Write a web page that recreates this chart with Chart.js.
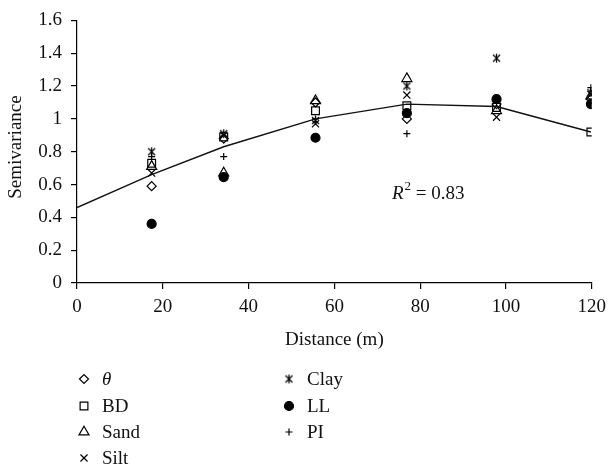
<!DOCTYPE html>
<html>
<head>
<meta charset="utf-8">
<script src="https://cdn.jsdelivr.net/npm/chart.js@4/dist/chart.umd.min.js"></script>
<style>
  html, body { margin: 0; padding: 0; background: #fff; }
  #wrap { width: 613px; height: 468px; }
</style>
</head>
<body>
<div id="wrap"><canvas id="semi" width="613" height="468"></canvas></div>
<script>
// lag distances (m)
var lags = [17.4, 34.2, 55.6, 76.9, 97.8, 119.8]

var theta = [0.59, 0.88, 1.10, 1.00, 1.09, 1.12]
var bd    = [0.73, 0.89, 1.05, 1.08, 1.07, 0.92]
var sand  = [0.71, 0.67, 1.11, 1.245, 1.05, 1.14]
var silt  = [0.67, 0.90, 0.97, 1.145, 1.01, 1.15]
var clay  = [0.80, 0.91, 0.99, 1.20, 1.37, 1.16]
var ll    = [0.36, 0.645, 0.885, 1.035, 1.12, 1.09]
var pi    = [0.77, 0.77, 1.00, 0.91, 1.10, 1.19]

// fitted model
var modelX = [0, 17.4, 34.2, 55.6, 76.9, 97.8, 119.8]
var modelY = [0.46, 0.66, 0.83, 1.00, 1.09, 1.075, 0.92]

var xTicks = [0, 20, 40, 60, 80, 100, 120]
var yTicks = [0, 0.2, 0.4, 0.6, 0.8, 1, 1.2, 1.4, 1.6]

var SERIF = "'Liberation Serif', 'DejaVu Serif', serif"
var FS = 19

// asterisk marker: an x with a vertical bar
function starMarker() {
  var c = document.createElement('canvas')
  c.width = 11; c.height = 11
  var g = c.getContext('2d')
  g.strokeStyle = '#000'
  g.lineWidth = 1.2
  g.beginPath()
  g.moveTo(2, 2); g.lineTo(9, 9)
  g.moveTo(9, 2); g.lineTo(2, 9)
  g.moveTo(5.5, 1); g.lineTo(5.5, 10)
  g.stroke()
  return c
}

function pts(ys) {
  return ys.map(function(y, i) { return {x: lags[i], y: y} })
}

function series(label, ys, style, radius, filled) {
  return {
    type: 'scatter',
    label: label,
    data: pts(ys),
    pointStyle: style,
    pointRadius: radius,
    pointHoverRadius: radius,
    pointBorderWidth: 1.2,
    borderColor: '#000',
    backgroundColor: filled ? '#000' : 'rgba(0,0,0,0)'
  }
}

var clayStyle = starMarker()

var datasets = [
  {
    type: 'line',
    label: 'model',
    data: modelX.map(function(x, i) { return {x: x, y: modelY[i]} }),
    borderColor: '#111',
    borderWidth: 1.4,
    pointRadius: 0,
    tension: 0,
    fill: false
  },
  series('θ', theta, 'rectRot', 4.5, false),
  series('BD', bd, 'rect', 5.5, false),
  series('Sand', sand, 'triangle', 5.8, false),
  series('Silt', silt, 'crossRot', 5, false),
  series('Clay', clay, clayStyle, 5, false),
  series('LL', ll, 'circle', 4.5, true),
  series('PI', pi, 'cross', 3.5, false)
]

// legend slots: two columns
var legendSlots = [
  {x: 84, y: 379, italic: true},
  {x: 84, y: 406},
  {x: 84, y: 432},
  {x: 84, y: 458},
  {x: 289, y: 379},
  {x: 289, y: 406},
  {x: 289, y: 432}
]

var extras = {
  id: 'extras',
  afterDraw: function(chart) {
    var ctx = chart.ctx
    var area = chart.chartArea
    ctx.save()
    ctx.fillStyle = '#111'

    // axis titles
    ctx.font = FS + 'px ' + SERIF
    ctx.textAlign = 'center'
    ctx.textBaseline = 'middle'
    ctx.fillText('Distance (m)', (area.left + area.right) / 2, 340)
    ctx.save()
    ctx.translate(16, 147)
    ctx.rotate(-Math.PI / 2)
    ctx.fillText('Semivariance', 0, 0)
    ctx.restore()

    // R squared
    ctx.textAlign = 'left'
    ctx.textBaseline = 'alphabetic'
    var x = 392, y = 199
    ctx.font = 'italic ' + FS + 'px ' + SERIF
    ctx.fillText('R', x, y)
    x += ctx.measureText('R').width + 1
    ctx.font = '13px ' + SERIF
    ctx.fillText('2', x, y - 9)
    x += ctx.measureText('2').width
    ctx.font = FS + 'px ' + SERIF
    ctx.fillText(' = 0.83', x, y)

    // legend
    var sets = chart.data.datasets.slice(1)
    sets.forEach(function(ds, i) {
      var s = legendSlots[i]
      ctx.strokeStyle = '#000'
      ctx.fillStyle = ds.backgroundColor
      ctx.lineWidth = 1.2
      Chart.helpers.drawPoint(ctx, {
        pointStyle: ds.pointStyle,
        radius: ds.pointRadius,
        rotation: 0,
        borderWidth: 1.2
      }, s.x, s.y)
      ctx.fillStyle = '#111'
      ctx.font = (s.italic ? 'italic ' : '') + FS + 'px ' + SERIF
      ctx.textAlign = 'left'
      ctx.textBaseline = 'middle'
      ctx.fillText(ds.label, s.x + 18, s.y + 1)
    })
    ctx.restore()
  }
}

new Chart(document.getElementById('semi'), {
  data: {datasets: datasets},
  options: {
    responsive: false,
    animation: false,
    layout: {padding: {top: 15, right: 15, left: 0, bottom: 0}},
    plugins: {legend: {display: false}, tooltip: {enabled: false}},
    scales: {
      x: {
        type: 'linear',
        min: 0, max: 120,
        afterFit: function(scale) { scale.height = 185 },
        afterBuildTicks: function(scale) { scale.ticks = xTicks.map(function(v) { return {value: v} }) },
        border: {color: '#000', width: 1.2},
        grid: {drawOnChartArea: false, tickLength: 6, color: '#000', lineWidth: 1.2},
        ticks: {color: '#111', padding: 7, maxRotation: 0, font: {family: SERIF, size: FS}}
      },
      y: {
        type: 'linear',
        min: 0, max: 1.6,
        afterFit: function(scale) { scale.width = 77 },
        afterBuildTicks: function(scale) { scale.ticks = yTicks.map(function(v) { return {value: v} }) },
        border: {color: '#000', width: 1.2},
        grid: {drawOnChartArea: false, tickLength: 6, color: '#000', lineWidth: 1.2},
        ticks: {
          color: '#111', padding: 9, font: {family: SERIF, size: FS},
          callback: function(v) { return String(+Number(v).toFixed(1)) }
        }
      }
    }
  },
  plugins: [extras]
})
</script>
</body>
</html>
